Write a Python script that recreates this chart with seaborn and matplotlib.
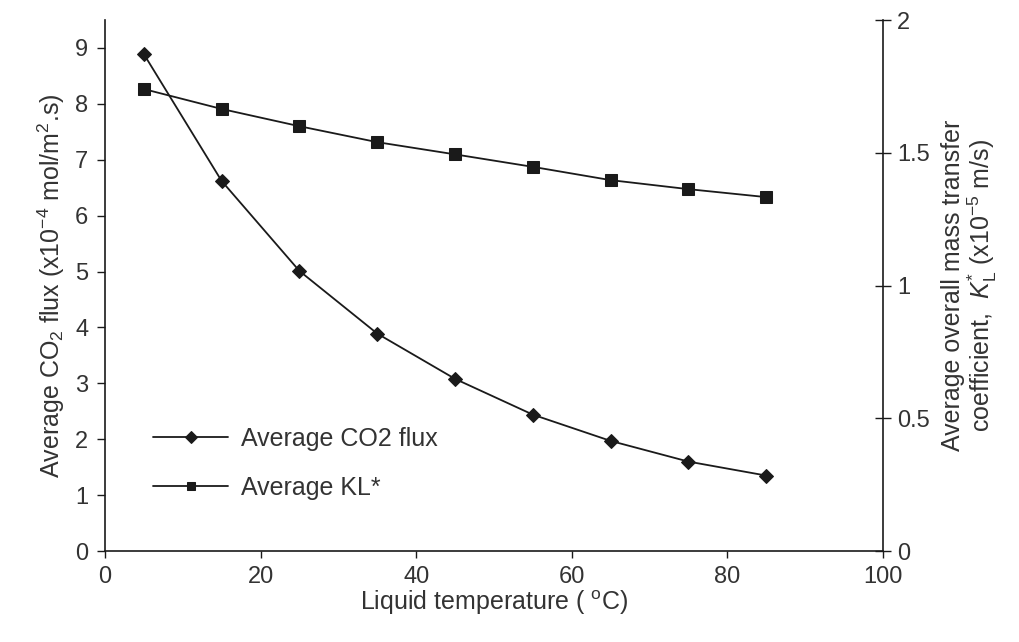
import matplotlib
matplotlib.use("Agg")
import matplotlib.pyplot as plt
import seaborn as sns
import pandas as pd

temperature = [5, 15, 25, 35, 45, 55, 65, 75, 85]
co2_flux = [8.89, 6.62, 5.01, 3.89, 3.08, 2.44, 1.97, 1.60, 1.35]
kl_star = [1.74, 1.665, 1.60, 1.54, 1.494, 1.447, 1.397, 1.363, 1.333]
x_ticks = [0, 20, 40, 60, 80, 100]
left_ticks = [0, 1, 2, 3, 4, 5, 6, 7, 8, 9]
right_ticks = [0, 0.5, 1, 1.5, 2]
right_tick_labels = ["0", "0.5", "1", "1.5", "2"]

sns.set_style("ticks")
plt.rcParams["font.family"] = ["Liberation Sans", "DejaVu Sans"]
plt.rcParams["mathtext.fontset"] = "custom"
plt.rcParams["mathtext.rm"] = "Liberation Sans"
plt.rcParams["mathtext.it"] = "Liberation Sans:italic"
plt.rcParams["mathtext.bf"] = "Liberation Sans:bold"

df = pd.DataFrame({"T": temperature, "flux": co2_flux, "kl": kl_star})

fig = plt.figure(figsize=(10.19, 6.42), dpi=100)
ax1 = fig.add_axes([0.103, 0.1417, 0.7635, 0.8271])
ax2 = ax1.twinx()

ink = "#1a1a1a"
txt = "#333333"
fs = 17
lfs = 18

sns.lineplot(data=df, x="T", y="flux", ax=ax1, color=ink, marker="D", markersize=7,
             linewidth=1.3, markeredgecolor=ink, label="Average CO2 flux", legend=False)
sns.lineplot(data=df, x="T", y="kl", ax=ax2, color=ink, marker="s", markersize=8.5,
             linewidth=1.3, markeredgecolor=ink, label="Average KL*", legend=False)

ax1.set_xlim(0, 100)
ax1.set_ylim(0, 9.5)
ax2.set_ylim(0, 2)
ax1.set_xticks(x_ticks)
ax1.set_yticks(left_ticks)
ax2.set_yticks(right_ticks)
ax2.set_yticklabels(right_tick_labels)

for ax in (ax1, ax2):
    ax.spines["top"].set_visible(False)
    for s in ax.spines.values():
        s.set_color(ink)
        s.set_linewidth(1.2)
ax1.spines["right"].set_visible(False)
ax2.spines["left"].set_visible(False)
ax2.spines["bottom"].set_visible(False)

ax1.tick_params(axis="y", direction="out", length=6, width=1, colors=ink,
                labelcolor=txt, labelsize=fs, pad=6)
ax1.tick_params(axis="x", direction="out", length=5, width=1, colors=ink,
                labelcolor=txt, labelsize=fs, pad=6)
ax2.tick_params(axis="y", direction="inout", length=12, width=1, colors=ink,
                labelcolor=txt, labelsize=fs, pad=4)

ax1.set_xlabel("Liquid temperature ( $^{\\mathrm{o}}$C)", fontsize=lfs, color=txt, labelpad=0)
ax1.set_ylabel("Average CO$_{2}$ flux (x10$^{-4}$ mol/m$^{2}$.s)", fontsize=lfs, color=txt, labelpad=6)
ax2.set_ylabel("Average overall mass transfer\ncoefficient,  $\\mathit{K}^{*}_{\\mathrm{L}}$ (x10$^{-5}$ m/s)",
               fontsize=lfs, color=txt, labelpad=8, linespacing=1.05)

h1, l1 = ax1.get_legend_handles_labels()
h2, l2 = ax2.get_legend_handles_labels()
leg = ax2.legend(h1 + h2, l1 + l2, loc="center left", bbox_to_anchor=(0.062, 0.165),
                 frameon=False, fontsize=lfs, handlelength=3.0, labelspacing=1.0,
                 handletextpad=0.5, borderpad=0, borderaxespad=0)
for t in leg.get_texts():
    t.set_color(txt)
for lh in leg.legend_handles:
    lh.set_markersize(6)

fig.savefig("out.png", dpi=100, facecolor="white")
